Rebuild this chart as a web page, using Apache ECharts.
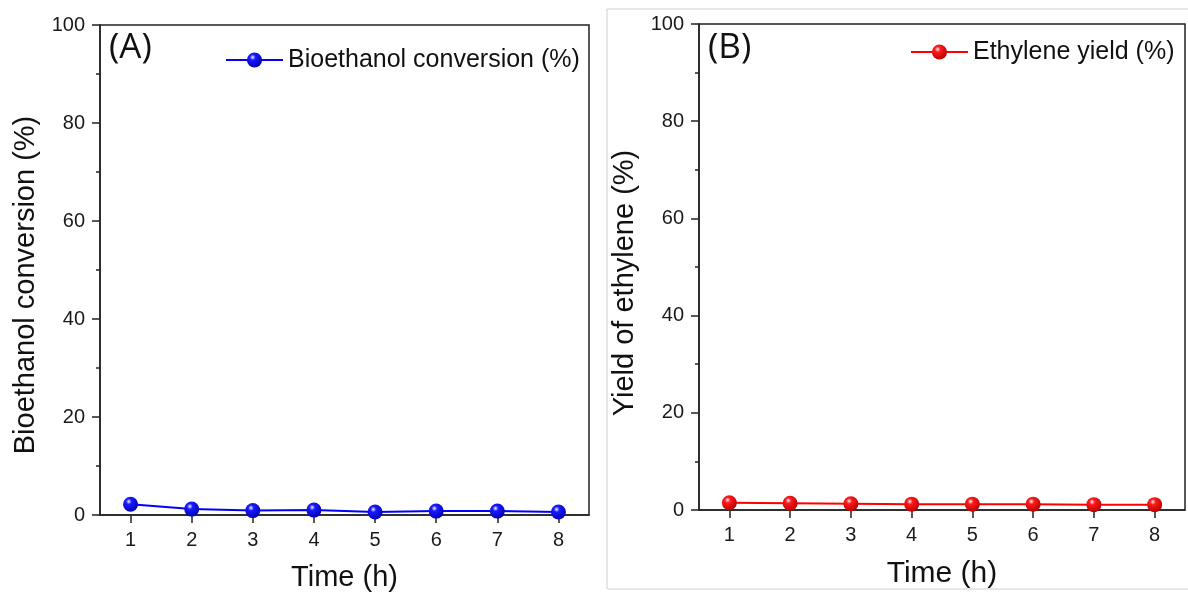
<!DOCTYPE html>
<html>
<head>
<meta charset="utf-8">
<script src="https://cdn.jsdelivr.net/npm/echarts@6/dist/echarts.min.js"></script>
<style>html,body{margin:0;padding:0;background:#fff}#c{width:1188px;height:597px}</style>
</head>
<body>
<div id="c"></div>
<script>
var timeLabels = ['1','2','3','4','5','6','7','8'];
var conversion = [2.2, 1.2, 0.9, 1.0, 0.6, 0.8, 0.8, 0.6];
var ethyleneYield = [1.5, 1.4, 1.3, 1.2, 1.2, 1.2, 1.1, 1.1];
var yTicks = [0, 20, 40, 60, 80, 100];
var yTitles = ['Bioethanol conversion (%)', 'Yield of ethylene (%)'];
var seriesNames = ['Bioethanol conversion (%)', 'Ethylene yield (%)'];

var FONT = 'Liberation Sans, Arial, sans-serif';
var AX = '#222';

function sphere(main, dark) {
  return {
    type: 'radial', x: 0.38, y: 0.32, r: 0.75,
    colorStops: [
      {offset: 0, color: '#f4f4ff'},
      {offset: 0.25, color: main},
      {offset: 1, color: dark}
    ]
  };
}

function xAxis(gi) {
  return {
    type: 'category', gridIndex: gi, data: timeLabels, boundaryGap: true,
    name: 'Time (h)', nameLocation: 'middle', nameGap: gi === 0 ? 48 : 49,
    nameTextStyle: {fontFamily: FONT, fontSize: gi === 0 ? 29 : 30, color: '#111'},
    axisLine: {show: true, lineStyle: {color: AX, width: 1.5}},
    axisTick: {show: true, alignWithLabel: true, length: 8, lineStyle: {color: AX, width: 1.5}},
    axisLabel: {fontFamily: FONT, fontSize: 20, color: '#1a1a1a', margin: 15},
    splitLine: {show: false}
  };
}
function yAxis(gi) {
  return {
    type: 'value', gridIndex: gi, min: yTicks[0], max: yTicks[yTicks.length - 1], interval: 20,
    axisLine: {show: true, lineStyle: {color: AX, width: 1.5}},
    axisTick: {show: true, length: 8, lineStyle: {color: AX, width: 1.5}},
    minorTick: {show: true, splitNumber: 2, length: 4, lineStyle: {color: AX, width: 1.5}},
    axisLabel: {fontFamily: FONT, fontSize: 20, color: '#1a1a1a', margin: 15},
    splitLine: {show: false}
  };
}

var chart = echarts.init(document.getElementById('c'), null, {renderer: 'canvas'});
chart.setOption({
  animation: false,
  backgroundColor: '#fff',
  grid: [
    {left: 100, top: 25, width: 489, height: 491, show: true, borderColor: AX, borderWidth: 1.5, backgroundColor: 'transparent'},
    {left: 699, top: 24, width: 486, height: 486, show: true, borderColor: AX, borderWidth: 1.5, backgroundColor: 'transparent'}
  ],
  xAxis: [xAxis(0), xAxis(1)],
  yAxis: [yAxis(0), yAxis(1)],
  legend: [
    {data: [seriesNames[0]], left: 225, top: 46, padding: 0, itemWidth: 57, itemHeight: 19,
     textStyle: {fontFamily: FONT, fontSize: 25, color: '#111', lineHeight: 28}},
    {data: [seriesNames[1]], left: 910, top: 38, padding: 0, itemWidth: 57, itemHeight: 19,
     textStyle: {fontFamily: FONT, fontSize: 25, color: '#111', lineHeight: 28}}
  ],
  graphic: [
    {type: 'rect', shape: {x: 607, y: 9, width: 620, height: 580}, style: {fill: 'none', stroke: '#cfcfcf', lineWidth: 1}, z: -1},
    {type: 'text', left: 109, top: 31, style: {text: '(A)', fontFamily: 'Open Sans, sans-serif', fontSize: 35, fill: '#111'}},
    {type: 'text', left: 708, top: 31, style: {text: '(B)', fontFamily: 'Open Sans, sans-serif', fontSize: 35, fill: '#111'}},
    {type: 'text', x: 26, y: 285, rotation: Math.PI / 2,
     style: {text: yTitles[0], fontFamily: FONT, fontSize: 29, fill: '#111', align: 'center', verticalAlign: 'middle'}},
    {type: 'text', x: 625, y: 283, rotation: Math.PI / 2,
     style: {text: yTitles[1], fontFamily: FONT, fontSize: 29, fill: '#111', align: 'center', verticalAlign: 'middle'}}
  ],
  series: [
    {name: seriesNames[0], type: 'line', xAxisIndex: 0, yAxisIndex: 0, data: conversion,
     symbol: 'circle', symbolSize: 15, lineStyle: {color: '#0000ff', width: 2},
     itemStyle: {color: sphere('#1a1aff', '#0000a8')}},
    {name: seriesNames[1], type: 'line', xAxisIndex: 1, yAxisIndex: 1, data: ethyleneYield,
     symbol: 'circle', symbolSize: 15, lineStyle: {color: '#ff0000', width: 2},
     itemStyle: {color: sphere('#ff1a1a', '#b00000')}}
  ]
});
</script>
</body>
</html>
